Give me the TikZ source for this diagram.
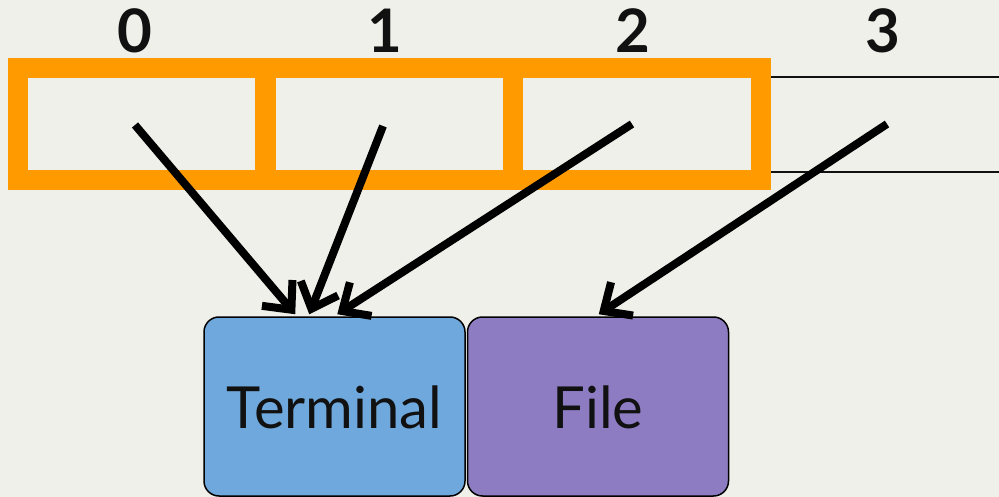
\documentclass[tikz,border=0pt]{standalone}
\usepackage{fontspec}
\setmainfont{Lato}
\usetikzlibrary{arrows.meta,calc}
\definecolor{bgpaper}{HTML}{F0F0EA}
\definecolor{slotorange}{HTML}{FF9A00}
\definecolor{termblue}{HTML}{6FA8DC}
\definecolor{filepurple}{HTML}{8E7CC3}
\definecolor{ink}{HTML}{111111}
\tikzset{
  cell/.style={draw=slotorange, line width=20pt, minimum width=248pt, minimum height=112pt, inner sep=0pt},
  idx/.style={anchor=base, inner sep=0pt, text=ink, font=\fontsize{60}{62}\selectfont\bfseries},
  target/.style={draw=black, line width=1.5pt, rounded corners=15pt, minimum width=261pt, minimum height=179pt,
    inner sep=0pt, text height=43pt, text depth=0pt, text=ink, font=\fontsize{58}{60}\selectfont},
  fdarrow/.style={draw=black, line width=8pt, -{Straight Barb[length=22pt, width=40pt, line join=miter, line cap=butt]}},
  rail/.style={draw=ink, line width=1.5pt}
}
\begin{document}
\begin{tikzpicture}[x=1pt, y=-1pt]
  % page and background
  \fill[bgpaper] (0,0) rectangle (999,497);
  \useasboundingbox (0,0) rectangle (999,497);

  % descriptor table slots
  \node[cell] (c0) at (141.5,124) {};
  \node[cell] (c1) at (389,124) {};
  \node[cell] (c2) at (637,124) {};
  \node[minimum width=248pt, minimum height=112pt, inner sep=0pt] (c3) at (885,124) {};
  \draw[rail] (771,77) -- (999,77);
  \draw[rail] (771,172) -- (999,172);

  % slot indices
  \node[idx] (n0) at (135,53) {0};
  \node[idx] (n1) at (385,53) {1};
  \node[idx] (n2) at (633,53) {2};
  \node[idx] (n3) at (883,53) {3};

  % open targets
  \node[target, fill=termblue] (term) at (334.5,406.5) {Terminal};
  \node[target, fill=filepurple] (file) at (598,406.5) {File};

  % arrow origins inside the slots
  \coordinate (p0) at (135,125);
  \coordinate (p1) at (383,126);
  \coordinate (p2) at (632,124);
  \coordinate (p3) at (887,124);

  % arrow ends on the targets
  \coordinate (t0) at ($(term.north west)+(92,-2)$);
  \coordinate (t1) at ($(term.north west)+(106,-2)$);
  \coordinate (t2) at ($(term.north west)+(134,-2)$);
  \coordinate (t3) at ($(file.north west)+(132,-2)$);

  \draw[fdarrow] (p0) -- (t0);
  \draw[fdarrow] (p1) -- (t1);
  \draw[fdarrow] (p2) -- (t2);
  \draw[fdarrow] (p3) -- (t3);
\end{tikzpicture}
\end{document}
